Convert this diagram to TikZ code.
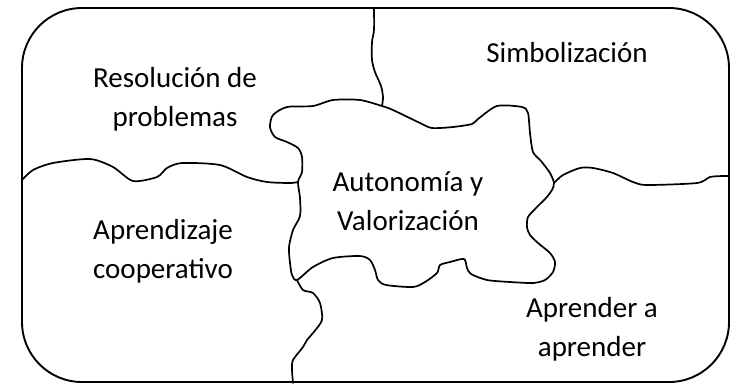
\documentclass[tikz,border=0pt]{standalone}
\usepackage{fontspec}
\setmainfont{Carlito}
\usetikzlibrary{calc}

\begin{document}
\begin{tikzpicture}[
    x=1pt, y=-1pt,
    frame/.style={
        draw=black, line width=1.9pt, rounded corners=60pt
    },
    edge/.style={
        draw=black, line width=1.7pt, line join=round, line cap=round
    },
    area/.style={
        align=center, anchor=base, inner sep=0pt,
        font=\fontsize{29}{39}\selectfont
    },
]

\useasboundingbox (0,0) rectangle (733,384);

% Outer frame
\draw[frame] (22,8) rectangle (729,382);

% Junctions where the borders meet the central piece
\coordinate (jtop) at (382,106);
\coordinate (jleft) at (298,182);
\coordinate (jright) at (554,183);
\coordinate (jbottom) at (297,280);

% Central piece
\draw[edge] plot[smooth cycle, tension=0.45] coordinates {
    (333,100) (360,100) (jtop) (393,110) (420,123) (432,128) (453,127)
    (472,124) (478,119) (497,106) (522,107) (528,113) (530,133) (533,152)
    (541,161) (550,173) (jright) (552,190) (546,198) (537,207) (528,217)
    (527,227) (530,235) (538,243) (550,253) (555,262) (553,272) (545,280)
    (533,283) (510,282) (487,280) (471,274) (467,268) (464,259) (450,262)
    (440,265) (437,273) (425,282) (413,287) (386,285) (378,280) (375,270)
    (370,260) (360,256) (333,258) (313,267) (jbottom) (292,275) (290,263)
    (289,247) (293,230) (300,216) (300,198) (jleft) (302,172) (302,157)
    (298,148) (287,142) (275,137) (270,127) (273,115) (287,107) (313,106)
};

% Border towards Simbolizacion (top)
\draw[edge] plot[smooth, tension=0.45] coordinates {
    (374,8) (374,30) (372,42) (372,60) (375,72) (381,86) (383,97) (jtop)
};

% Border between Resolucion and Aprendizaje (left)
\draw[edge] plot[smooth, tension=0.45] coordinates {
    (22,180) (33,170) (53,163) (90,159) (113,167) (133,181) (157,177)
    (167,168) (182,163) (220,165) (247,177) (267,182) (290,183) (jleft)
};

% Border between Simbolizacion and Aprender (right)
\draw[edge] plot[smooth, tension=0.45] coordinates {
    (jright) (563,175) (580,168) (593,168) (613,173) (633,182) (647,185)
    (697,183) (710,177) (723,176) (729,176)
};

% Border between Aprendizaje and Aprender (bottom)
\draw[edge] plot[smooth, tension=0.45] coordinates {
    (jbottom) (303,290) (313,293) (320,303) (322,320) (313,333) (307,340)
    (303,347) (293,360) (292,370) (293,383)
};

% Texts
\node[area] (simbolizacion) at (567,62) {Simbolización};
\node[area] (resolucion) at (175,126) {Resolución de\\problemas};
\node[area] (autonomia) at (408,230) {Autonomía y\\Valorización};
\node[area] (cooperativo) at (163,278) {Aprendizaje\\cooperativo};
\node[area] (aprender) at (592,356) {Aprender a\\aprender};

\end{tikzpicture}
\end{document}
